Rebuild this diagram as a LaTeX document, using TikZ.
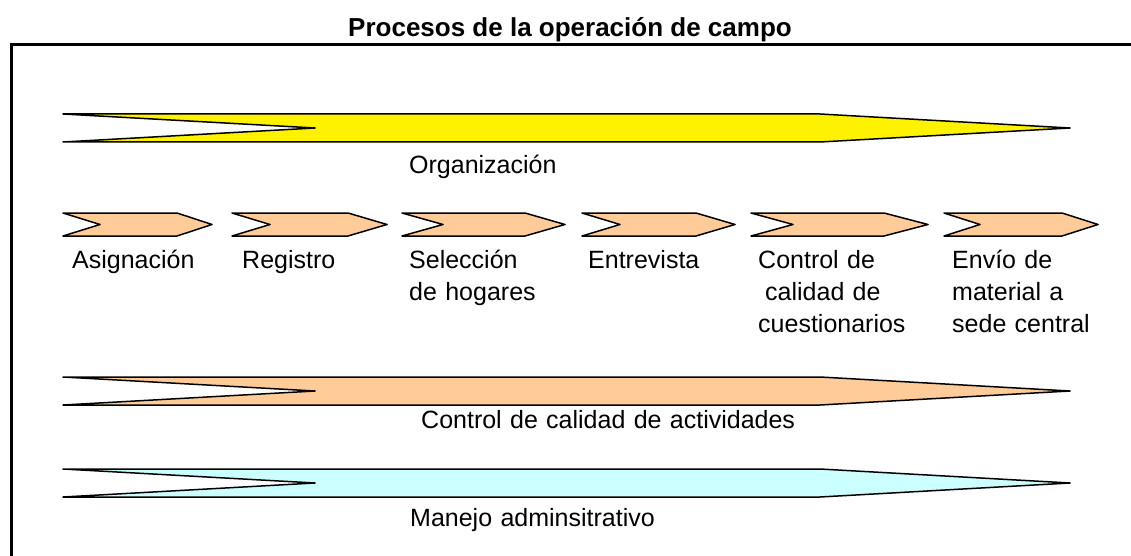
\documentclass[tikz,border=0pt]{standalone}
\usepackage{fontspec}
\setmainfont{Liberation Sans}
\usepackage{tikz}
\usetikzlibrary{positioning}
\definecolor{peach}{HTML}{FFCC99}
\definecolor{paleblue}{HTML}{CCFFFF}
\tikzstyle{frame} = [line width=3pt]
\tikzstyle{chevron} = [draw=black, line width=1.5pt, line join=round, fill=peach]
\tikzstyle{longbar} = [draw=black, line width=1.5pt, line join=round]
\tikzstyle{stagelabel} = [anchor=base west, inner sep=0pt, text width=190pt, align=left, font=\fontsize{25}{32}\selectfont]
\tikzstyle{titletext} = [anchor=base, inner sep=0pt, font=\bfseries\fontsize{26}{30}\selectfont]

\begin{document}
\begin{tikzpicture}[x=1pt,y=-1pt]
\useasboundingbox (0,0) rectangle (1131,556);
%
\node (title) [titletext] at (570,37) {Procesos de la operación de campo};
\draw [frame] (1131,45) -- (11.5,45) -- (11.5,558);
%
% long bars
\foreach \ytop/\col in {114/yellow, 377/peach, 469/paleblue}
  \draw [longbar, fill=\col] (63,\ytop) -- (820,\ytop) -- (1070,\ytop+14) -- (820,\ytop+28) -- (63,\ytop+28) -- (315,\ytop+14) -- cycle;
%
% stages
\foreach \l/\n/\s/\t in {63/100/177/212, 232/270/348/387, 402/443/525/565, 582/620/696/735, 751/793/884/928, 944/980/1062/1098}
  \draw [chevron] (\l,213) -- (\s,213) -- (\t,224.5) -- (\s,236) -- (\l,236) -- (\n,224.5) -- cycle;
%
\node (organizacion) [stagelabel] at (409,174) {Organización};
\node (asignacion) [stagelabel] at (72,268) {Asignación};
\node (registro) [stagelabel] at (242,268) {Registro};
\node (seleccion) [stagelabel] at (409,268) {Selección\\de hogares};
\node (entrevista) [stagelabel] at (588,268) {Entrevista};
\node (control_cuest) [stagelabel] at (758,268) {Control de\\\hspace*{7pt}calidad de\\cuestionarios};
\node (envio) [stagelabel] at (952,268) {Envío de\\material a\\sede central};
\node (control_act) [stagelabel, text width=400pt] at (421,428) {Control de calidad de actividades};
\node (manejo) [stagelabel, text width=400pt] at (410,526) {Manejo adminsitrativo};
%
\end{tikzpicture}
\end{document}
